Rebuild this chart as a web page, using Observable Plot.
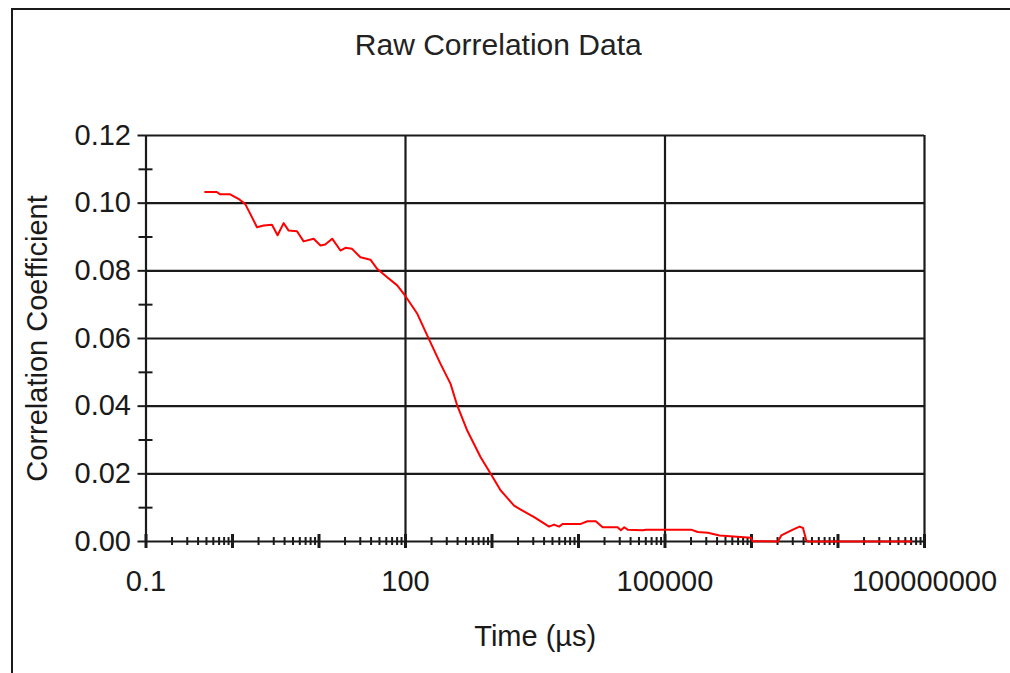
<!DOCTYPE html>
<html>
<head>
<meta charset="utf-8">
<script src="https://cdn.jsdelivr.net/npm/d3@7"></script>
<script src="https://cdn.jsdelivr.net/npm/@observablehq/plot@0.6"></script>
<style>
  html, body { margin: 0; padding: 0; background: #fff; }
  #wrap { position: relative; width: 1010px; height: 673px; overflow: hidden; background: #fff; }
  #frame { position: absolute; left: 11px; top: 8px; width: 1100px; height: 800px;
           border-left: 2px solid #1a1a1a; border-top: 2px solid #1a1a1a; pointer-events: none; }
  #wrap svg { position: absolute; left: 0; top: 0; }
</style>
</head>
<body>
<div id="wrap"></div>
<script>
// ---- data ----
const timeUs = [0.482, 0.659, 0.72, 0.94, 1.17, 1.40, 1.60, 1.92, 2.29, 2.86, 3.32, 3.90, 4.46, 5.57, 6.64, 8.67,
  10.4, 11.8, 14.2, 17.7, 20.2, 24.1, 30.1, 39.3, 47.0, 61.4, 80.2, 100, 137, 186, 254, 332, 396, 517, 739, 966,
  1259, 1799, 2148, 3069, 4571, 5224, 5970, 6530, 10640, 12700, 15860, 19000, 28300, 30900, 33800, 37000,
  55200, 60300, 200000, 239000, 313000, 427000, 990000, 1030000, 2020000, 2210000, 3010000, 3600000,
  3940000, 4300000, 4500000, 70800000];
const corrCoef = [0.1033, 0.1033, 0.1026, 0.1026, 0.1013, 0.0998, 0.0969, 0.0929, 0.0934, 0.0936, 0.0905, 0.0941,
  0.0919, 0.0917, 0.0887, 0.0895, 0.0875, 0.0878, 0.0895, 0.0860, 0.0868, 0.0865, 0.0840, 0.0833, 0.0806, 0.0781,
  0.0757, 0.0725, 0.0673, 0.0599, 0.0525, 0.0466, 0.0402, 0.0328, 0.0249, 0.0200, 0.0151, 0.0106, 0.0094, 0.0072,
  0.0044, 0.0050, 0.0044, 0.0052, 0.0052, 0.0060, 0.0060, 0.0042, 0.0042, 0.0033, 0.0042, 0.0035, 0.0033, 0.0035,
  0.0035, 0.0028, 0.0026, 0.0018, 0.0011, 0.0001, 0.0, 0.0018, 0.0035, 0.0044, 0.0040, 0.0003, 0.0, 0.0];

const xTicks = [0.1, 100, 100000, 100000000];
const xTickLabels = ["0.1", "100", "100000", "100000000"];
const xDecades = [0.1, 1, 10, 100, 1000, 10000, 100000, 1000000, 10000000, 100000000];
const xMinorMult = [2, 3, 4, 5, 6, 7, 8, 9];
const yTicks = [0, 0.02, 0.04, 0.06, 0.08, 0.10, 0.12];
const yTickLabels = ["0.00", "0.02", "0.04", "0.06", "0.08", "0.10", "0.12"];
const yMinor = [0.01, 0.03, 0.05, 0.07, 0.09, 0.11];
const title = "Raw Correlation Data";
const xLabel = "Time (µs)";
const yLabel = "Correlation Coefficient";

const series = timeUs.map((t, i) => ({t, c: corrCoef[i]}));
const xMinor = xDecades.slice(0, -1).flatMap(d => xMinorMult.map(m => d * m));

const ink = "#1a1a1a";
const font = "'Liberation Sans', Arial, sans-serif";
const fs = 29;

const chart = Plot.plot({
  width: 1010,
  height: 673,
  marginLeft: 145.5,
  marginRight: 86,
  marginTop: 135,
  marginBottom: 132,
  style: {fontFamily: font, fontSize: fs + "px", background: "transparent", color: ink},
  x: {type: "log", domain: [0.1, 100000000], axis: null},
  y: {domain: [0, 0.12], axis: null},
  marks: [
    // grid
    Plot.ruleY(yTicks.slice(1), {stroke: ink, strokeWidth: 2.2}),
    Plot.ruleX(xTicks.slice(1), {stroke: ink, strokeWidth: 2.2}),
    // axis lines
    Plot.ruleX([0.1], {stroke: ink, strokeWidth: 2.2}),
    Plot.ruleY([0], {stroke: ink, strokeWidth: 2.2}),
    // y major ticks (outward)
    Plot.ruleY(yTicks, {x1: 0.1, x2: 0.1, insetLeft: -8, insetRight: 0, stroke: ink, strokeWidth: 2}),
    // y minor ticks (crossing)
    Plot.ruleY(yMinor, {x1: 0.1, x2: 0.1, insetLeft: -7, insetRight: -7, stroke: ink, strokeWidth: 2}),
    // x decade ticks (crossing)
    Plot.ruleX(xDecades, {y1: 0, y2: 0, insetTop: -7, insetBottom: -7, stroke: ink, strokeWidth: 3}),
    // x minor ticks (crossing)
    Plot.ruleX(xMinor, {y1: 0, y2: 0, insetTop: -4, insetBottom: -4, stroke: ink, strokeWidth: 2}),
    // data
    Plot.line(series, {x: "t", y: "c", stroke: "#ff0000", strokeWidth: 2}),
    // tick labels
    Plot.text(yTicks, {y: d => d, frameAnchor: "left", text: (d, i) => yTickLabels[i], textAnchor: "end",
      lineAnchor: "middle", dx: -15, fontSize: fs, fill: ink}),
    Plot.text(xTicks, {x: d => d, frameAnchor: "bottom", text: (d, i) => xTickLabels[i],
      textAnchor: "middle", lineAnchor: "middle", dy: 40, fontSize: fs, fill: ink}),
    // titles
    Plot.text([title], {frameAnchor: "top", textAnchor: "middle", lineAnchor: "middle",
      dx: -37, dy: -90, fontSize: 30, fill: "#222"}),
    Plot.text([xLabel], {frameAnchor: "bottom", textAnchor: "middle", lineAnchor: "middle",
      dy: 95, fontSize: fs, fill: ink}),
    Plot.text([yLabel], {frameAnchor: "left", textAnchor: "middle", lineAnchor: "middle",
      rotate: -90, dx: -108, fontSize: fs, fill: ink})
  ]
});

const wrap = document.getElementById("wrap");
wrap.appendChild(chart);
const frame = document.createElement("div");
frame.id = "frame";
wrap.appendChild(frame);
</script>
</body>
</html>
